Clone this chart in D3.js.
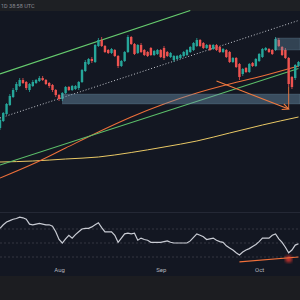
<!DOCTYPE html>
<html><head><meta charset="utf-8">
<script src="https://cdn.jsdelivr.net/npm/d3@7"></script>
<style>html,body{margin:0;padding:0;background:#131722;overflow:hidden}</style>
</head><body><svg id="c" width="300" height="300"></svg>
<script>
// ---------- DATA ----------
const startDate = "2024-07-14";
const endDate = "2024-10-13";
const open  = [72,79,86,95,103,110,114,120,118,110,114,117,119,122,120,117,115,110,105,101,107,113,110,111,112,118,129,136,141,138,154,160,154,150,147,150,144,134,139,148,163,156,147,155,150,148,152,145,146,150,152,148,143,140,141,142,144,145,148,150,154,160,157,152,155,151,155,153,148,150,148,138,142,136,126,132,128,137,134,139,143,150,151,150,150,160,153,150,142,123,122,134];
const close = [80,87,96,104,110,116,120,117,112,116,118,120,122,120,116,114,110,105,101,107,113,110,114,114,118,130,138,141,139,155,160,154,148,147,151,144,134,139,148,163,156,146,155,148,145,144,145,149,150,143,142,144,147,144,144,145,148,150,153,157,160,154,152,155,150,155,150,148,151,143,138,142,133,123,131,128,136,134,141,146,151,152,148,146,161,154,145,142,116,113,135,138];
const high  = [82,88,97,106,112,118,122,122,119,117,120,121,124,124,121,118,116,111,106,108,114,114,115,115,119,131,140,142,143,156,162,163,155,151,152,151,145,140,149,165,164,157,156,157,151,149,153,150,151,151,154,149,148,145,145,146,149,151,154,158,162,161,158,156,156,156,156,154,152,151,149,143,143,137,132,133,137,138,142,147,152,153,152,151,163,162,154,152,143,124,136,139];
const low   = [70,78,85,94,102,108,113,116,110,108,113,116,118,119,115,112,108,103,99,99,106,109,109,110,110,117,128,135,137,137,153,153,147,146,146,143,132,133,138,147,155,145,146,147,144,143,144,144,145,142,140,143,142,138,140,141,143,144,147,149,153,153,151,151,149,150,149,147,147,142,137,137,132,120,124,127,127,133,133,138,142,149,147,145,149,153,144,141,113,111,120,133];
const rsi   = [71,76,80,82,84,85,87,86,84,77,76,77,78,77,76,76,74,66,55,50,56,61,57,62,66,70,71,71,73,76,79,72,66,66,66,61,51,57,63,64,63,64,54,57,55,54,51,51,51,51,52,53,51,50,50,50,50,50,53,58,63,61,59,55,56,57,54,52,51,46,43,40,36,33,37,40,42,45,48,52,57,57,57,61,63,56,51,44,36,40,47,49];

// moving averages sampled on a few dates
const maDates = ["2024-07-14","2024-07-24","2024-08-03","2024-08-13","2024-08-23","2024-09-02","2024-09-12","2024-09-22","2024-10-02","2024-10-13"];
const ma100 = [22,36,52,68,83,96,107,116,124,134];
const ma200 = [38,39,41,43,47.5,53,59,67,75,83];

// drawn trendlines [date, price]
const upperChannel = [["2024-07-14",126],["2024-09-10",189.5]];
const midChannel   = [["2024-07-14",82],["2024-10-13",179.5]];
const lowerTrend   = [["2024-07-14",35],["2024-10-13",131.5]];
const arrowLine    = [["2024-09-18",119],["2024-10-10",91]];
const arrowVert    = [["2024-10-10",113],["2024-10-10",91]];
// zones [startDate, lowPrice, highPrice]
const supportZone    = ["2024-08-02",96,106];
const resistanceZone = ["2024-10-06",150,162];
// RSI annotations
const rsiBands = [70,50,30];
const rsiTrend = [["2024-09-25",23],["2024-10-13",30]];
const rsiMark  = ["2024-10-10",27];

const tickDates  = ["2024-08-01","2024-09-01","2024-10-01"];
const tickLabels = ["Aug","Sep","Oct"];
const headerText = "1D 38:58 UTC";

// ---------- CHART ----------
const W = 300, H = 300;
const parse = d3.timeParse("%Y-%m-%d");
const dates = d3.timeDay.range(parse(startDate), d3.timeDay.offset(parse(endDate), 1));
const candles = dates.map((d,i)=>({d, o:open[i], h:high[i], l:low[i], c:close[i], r:rsi[i]}));

const x = d3.scaleTime().domain([parse(startDate), parse(endDate)]).range([0, 298.5]);
const y = d3.scaleLinear().domain([0, 200]).range([200, 0]);
const yr = d3.scaleLinear().domain([0, 100]).range([278, 208]);

const svg = d3.select("#c");
svg.append("rect").attr("width",W).attr("height",H).attr("fill","#131722");
svg.append("rect").attr("width",W).attr("height",11).attr("fill","#1e2024");
svg.append("rect").attr("y",276).attr("width",W).attr("height",24).attr("fill","#1c1d21");
svg.append("text").attr("x",1).attr("y",7.5).attr("fill","#8a8d96")
  .attr("font-family","Roboto, sans-serif").attr("font-size",5.5).text(headerText);

const main = svg.append("g");
const lineGen = d3.line().x(p=>x(parse(p[0]))).y(p=>y(p[1]));

// moving averages
const maLine = d3.line().curve(d3.curveMonotoneX).x((v,i)=>x(parse(maDates[i]))).y(v=>y(v));
main.append("path").attr("d",maLine(ma200)).attr("fill","none").attr("stroke","#e9c865").attr("stroke-width",1);
main.append("path").attr("d",maLine(ma100)).attr("fill","none").attr("stroke","#ec6f3a").attr("stroke-width",1.1);

// trend lines
main.append("path").attr("d",lineGen(lowerTrend)).attr("fill","none").attr("stroke","#5cbf6a").attr("stroke-width",1.1);
main.append("path").attr("d",lineGen(upperChannel)).attr("fill","none").attr("stroke","#66cc6e").attr("stroke-width",1.3);
main.append("path").attr("d",lineGen(midChannel)).attr("fill","none").attr("stroke","#c4c7cf").attr("stroke-width",1).attr("stroke-dasharray","1,2");

// candles
const bw = 2.4;
const cg = main.append("g");
cg.selectAll("line").data(candles).join("line")
  .attr("x1",d=>x(d.d)).attr("x2",d=>x(d.d)).attr("y1",d=>y(d.h)).attr("y2",d=>y(d.l))
  .attr("stroke",d=>d.c>=d.o?"#26a69a":"#ef5350").attr("stroke-width",0.8);
cg.selectAll("rect").data(candles).join("rect")
  .attr("x",d=>x(d.d)-bw/2).attr("width",bw)
  .attr("y",d=>y(Math.max(d.o,d.c))).attr("height",d=>Math.max(1,Math.abs(y(d.o)-y(d.c))))
  .attr("fill",d=>d.c>=d.o?"#26a69a":"#ef5350");

// zones
function zone(z, op){
  main.append("rect").attr("x",x(parse(z[0]))).attr("width",W-x(parse(z[0])))
    .attr("y",y(z[2])).attr("height",y(z[1])-y(z[2]))
    .attr("fill","#7098b4").attr("fill-opacity",op)
    .attr("stroke","#8fb3cc").attr("stroke-opacity",0.3).attr("stroke-width",0.6);
}
zone(supportZone,0.42);
zone(resistanceZone,0.34);

// arrows
main.append("path").attr("d",lineGen(arrowLine)).attr("fill","none").attr("stroke","#f07a3f").attr("stroke-width",1.1);
main.append("path").attr("d",lineGen(arrowVert)).attr("fill","none").attr("stroke","#f07a3f").attr("stroke-width",0.9);
{
  const x0=x(parse(arrowLine[0][0])), y0=y(arrowLine[0][1]);
  const x1=x(parse(arrowLine[1][0])), y1=y(arrowLine[1][1]);
  const a=Math.atan2(y1-y0,x1-x0), L=7;
  const p = [[x1-L*Math.cos(a-0.45), y1-L*Math.sin(a-0.45)],[x1,y1],[x1-L*Math.cos(a+0.45), y1-L*Math.sin(a+0.45)]];
  main.append("path").attr("d",d3.line()(p)).attr("fill","none").attr("stroke","#f07a3f").attr("stroke-width",1.1);
}

// ---------- RSI ----------
const rg = svg.append("g");
rg.append("line").attr("x1",0).attr("x2",W).attr("y1",212.5).attr("y2",212.5).attr("stroke","#242835").attr("stroke-width",1);
rg.selectAll("line.band").data(rsiBands).join("line").attr("class","band")
  .attr("x1",0).attr("x2",W).attr("y1",v=>yr(v)).attr("y2",v=>yr(v))
  .attr("stroke","#787b86").attr("stroke-opacity",0.4).attr("stroke-width",0.8).attr("stroke-dasharray","2,2");
rg.append("path").datum(candles)
  .attr("d",d3.line().x(d=>x(d.d)).y(d=>yr(d.r)))
  .attr("fill","none").attr("stroke","#c9ccd4").attr("stroke-width",1.2);
const defs = svg.append("defs");
defs.append("filter").attr("id","blur").append("feGaussianBlur").attr("stdDeviation",1.5);
rg.append("circle").attr("cx",x(parse(rsiMark[0]))).attr("cy",yr(rsiMark[1])).attr("r",3.5)
  .attr("fill","#ff3b30").attr("opacity",0.7).attr("filter","url(#blur)");
rg.append("path").attr("d",d3.line().x(p=>x(parse(p[0]))).y(p=>yr(p[1]))(rsiTrend))
  .attr("fill","none").attr("stroke","#f0703a").attr("stroke-width",1.2);

// ---------- time axis ----------
const ax = svg.append("g").attr("transform","translate(0,266)")
  .call(d3.axisBottom(x).tickValues(tickDates.map(parse)).tickFormat((d,i)=>tickLabels[i]).tickSize(0));
ax.select(".domain").remove();
ax.selectAll("text").attr("fill","#b2b5be").attr("font-size",6).attr("font-family","Roboto, sans-serif").attr("dy","0.55em");
</script>
</body></html>
